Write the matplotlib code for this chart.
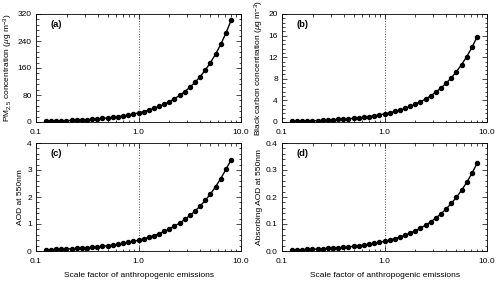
import matplotlib
matplotlib.use("Agg")
import matplotlib.pyplot as plt
from matplotlib.ticker import FixedLocator, FixedFormatter, AutoMinorLocator, LogLocator, NullFormatter

plt.rcParams['font.family'] = ['Liberation Sans', 'DejaVu Sans']
plt.rcParams['mathtext.fontset'] = 'custom'
plt.rcParams['mathtext.rm'] = 'Liberation Sans'
plt.rcParams['mathtext.it'] = 'Liberation Sans:italic'

# scale factors (2^(k/6), k=-18..18)
scale = [0.125, 0.1403, 0.1575, 0.1768, 0.1984, 0.2227, 0.25, 0.2806, 0.3150,
         0.3536, 0.3969, 0.4454, 0.5, 0.5612, 0.6300, 0.7071, 0.7937, 0.8909,
         1.0, 1.1225, 1.2599, 1.4142, 1.5874, 1.7818, 2.0, 2.2449, 2.5198,
         2.8284, 3.1748, 3.5636, 4.0, 4.4898, 5.0397, 5.6569, 6.3496, 7.1272, 8.0]

pm25 = [2.4, 2.8, 3.2, 3.6, 4.1, 4.7, 5.4, 6.2, 7.1, 8.1, 9.2, 10.6, 12.1,
        13.8, 15.8, 18.1, 20.7, 23.6, 27.0, 30.9, 35.3, 40.3, 46.1, 52.7,
        60.3, 68.9, 78.8, 90.1, 103.0, 117.8, 134.7, 154.0, 176.1, 201.3,
        230.2, 263.2, 301.0]

bc = [0.143, 0.163, 0.185, 0.211, 0.241, 0.275, 0.313, 0.357, 0.406, 0.463,
      0.528, 0.601, 0.685, 0.781, 0.890, 1.014, 1.155, 1.316, 1.5, 1.709,
      1.948, 2.220, 2.529, 2.882, 3.284, 3.742, 4.264, 4.859, 5.537, 6.310,
      7.190, 8.193, 9.336, 10.64, 12.12, 13.81, 15.74]

aod = [0.047, 0.053, 0.060, 0.067, 0.076, 0.085, 0.096, 0.108, 0.122, 0.137,
       0.154, 0.174, 0.196, 0.221, 0.249, 0.280, 0.315, 0.355, 0.40, 0.451,
       0.508, 0.572, 0.644, 0.725, 0.817, 0.920, 1.036, 1.167, 1.315, 1.481,
       1.668, 1.879, 2.116, 2.384, 2.685, 3.025, 3.37]

aaod = [0.0040, 0.0045, 0.0051, 0.0057, 0.0065, 0.0073, 0.0083, 0.0094, 0.0106,
        0.0120, 0.0135, 0.0153, 0.0173, 0.0195, 0.0221, 0.0249, 0.0282, 0.0319,
        0.036, 0.0407, 0.046, 0.052, 0.0587, 0.0663, 0.0750, 0.0847, 0.0957,
        0.1082, 0.1222, 0.1381, 0.1561, 0.1764, 0.1993, 0.2252, 0.2545, 0.2876,
        0.325]

panels = [
    ("(a)", pm25, [0, 80, 160, 240, 320], ["0", "80", "160", "240", "320"],
     "PM$_{2.5}$ concentration ($\\mu$g m$^{-3}$)"),
    ("(b)", bc, [0, 4, 8, 12, 16, 20], ["0", "4", "8", "12", "16", "20"],
     "Black carbon concentration ($\\mu$g m$^{-3}$)"),
    ("(c)", aod, [0, 1, 2, 3, 4], ["0", "1", "2", "3", "4"], "AOD at 550nm"),
    ("(d)", aaod, [0, 0.1, 0.2, 0.3, 0.4], ["0.0", "0.1", "0.2", "0.3", "0.4"],
     "Absorbing AOD at 550nm"),
]

fig = plt.figure(figsize=(5, 2.84), dpi=100)
W, H = 500, 284
boxes = [(36, 14), (282, 14), (36, 143), (282, 143)]
aw, ah = 205, 108
fs = 6.0

for i, (lab, vals, yt, ytl, ylab) in enumerate(panels):
    x0, y0 = boxes[i]
    ax = fig.add_axes([x0 / W, (H - y0 - ah) / H, aw / W, ah / H])
    ax.axhline(0, color='red', ls=':', lw=0.8, zorder=1)
    ax.axvline(1.0, color='0.3', ls=':', lw=0.7, zorder=1)
    ax.plot(scale, vals, color='black', lw=1.0, marker='o', ms=2.9, zorder=3)
    ax.set_xscale('log')
    ax.set_xlim(0.1, 10)
    ax.set_ylim(yt[0], yt[-1])
    ax.xaxis.set_major_locator(FixedLocator([0.1, 1, 10]))
    ax.xaxis.set_major_formatter(FixedFormatter(["0.1", "1.0", "10.0"]))
    ax.xaxis.set_minor_locator(LogLocator(base=10, subs=range(2, 10)))
    ax.xaxis.set_minor_formatter(NullFormatter())
    ax.yaxis.set_major_locator(FixedLocator(yt))
    ax.yaxis.set_major_formatter(FixedFormatter(ytl))
    ax.yaxis.set_minor_locator(AutoMinorLocator(5))
    ax.tick_params(which='both', direction='in', top=True, right=True,
                   labelsize=fs, width=0.5)
    ax.tick_params(axis='x', pad=5)
    ax.tick_params(axis='y', pad=3)
    ax.tick_params(which='major', length=3.5)
    ax.tick_params(which='minor', length=1.8)
    for s in ax.spines.values():
        s.set_linewidth(0.6)
    ax.set_ylabel(ylab, fontsize=fs, labelpad=2)
    if i >= 2:
        ax.set_xlabel("Scale factor of anthropogenic emissions", fontsize=fs, labelpad=5)
    ax.text(0.1, 0.9, lab, transform=ax.transAxes, fontsize=6.8,
            fontweight='bold', va='center', ha='center')

fig.savefig("out.png", dpi=100)
